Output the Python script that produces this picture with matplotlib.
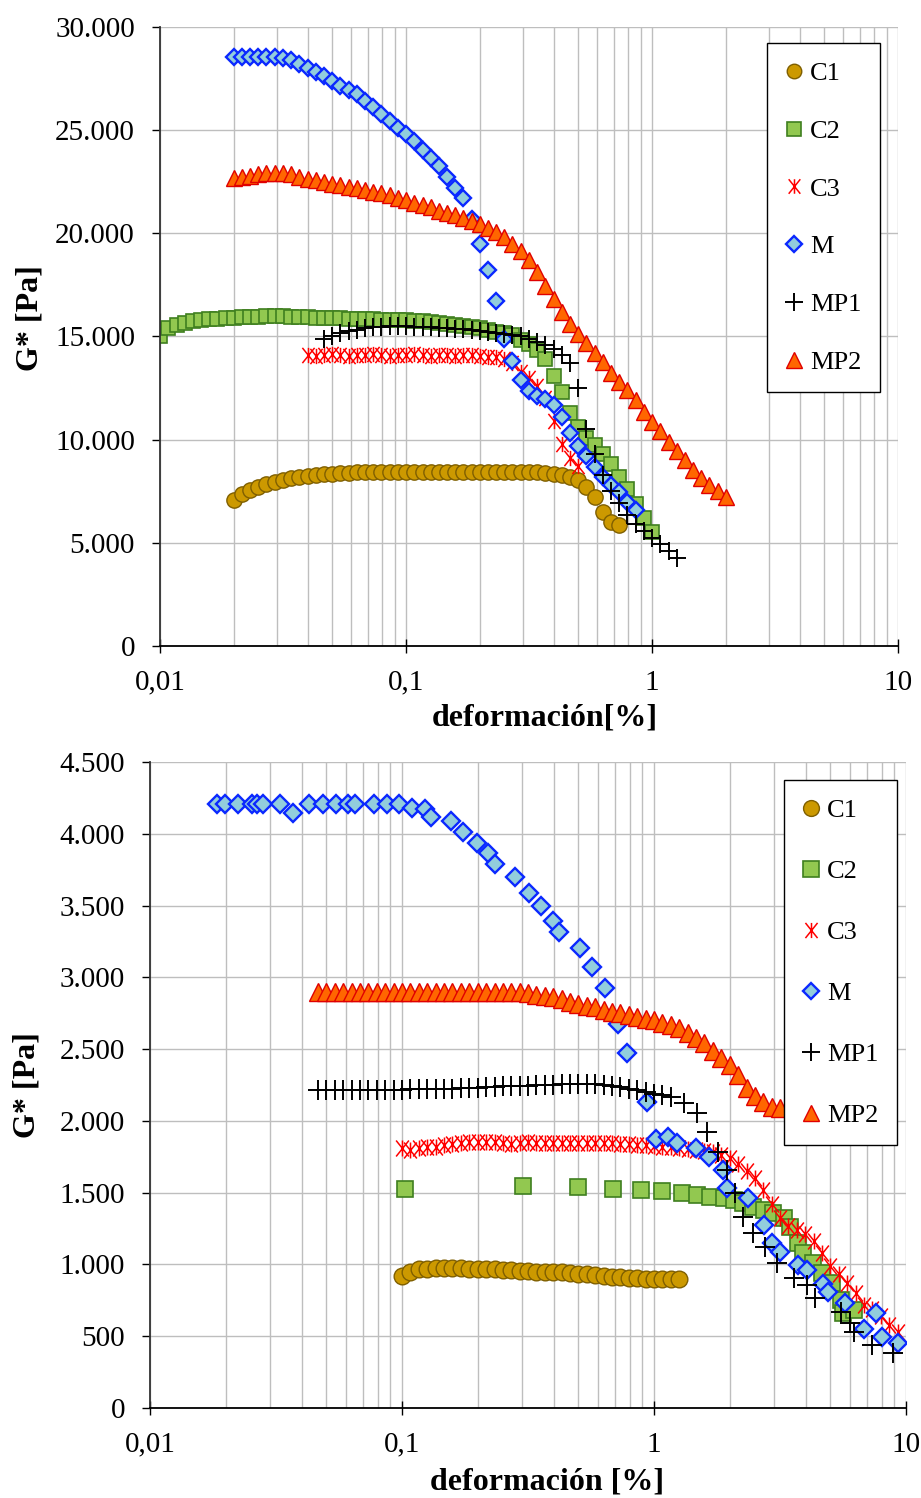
import numpy as np
import matplotlib
matplotlib.use("Agg")
import matplotlib.pyplot as plt
from matplotlib.path import Path
from matplotlib.ticker import FixedLocator, LogLocator, FuncFormatter, NullFormatter

# strain sweep grid (%), 30 points per decade
strain = [0.0100, 0.0108, 0.0117, 0.0126, 0.0136, 0.0147, 0.0158, 0.0171, 0.0185, 0.0200,
          0.0215, 0.0233, 0.0251, 0.0271, 0.0293, 0.0316, 0.0341, 0.0368, 0.0398, 0.0430,
          0.0464, 0.0501, 0.0541, 0.0584, 0.0631, 0.0681, 0.0736, 0.0794, 0.0858, 0.0926,
          0.100, 0.108, 0.117, 0.126, 0.136, 0.147, 0.158, 0.171, 0.185, 0.200,
          0.215, 0.233, 0.251, 0.271, 0.293, 0.316, 0.341, 0.368, 0.398, 0.430,
          0.464, 0.501, 0.541, 0.584, 0.631, 0.681, 0.736, 0.794, 0.858, 0.926,
          1.00, 1.08, 1.17, 1.26, 1.36, 1.47, 1.58, 1.71, 1.85, 2.00,
          2.15, 2.33, 2.51, 2.71, 2.93, 3.16, 3.41, 3.68, 3.98, 4.30,
          4.64, 5.01, 5.41, 5.84, 6.31, 6.81, 7.36, 7.94, 8.58, 9.26, 10.0]

labels = ["C1", "C2", "C3", "M", "MP1", "MP2"]

# ---- upper chart: G* [Pa] on the strain grid, first strain of each series given
c1_top_start = 0.0200
c1_top = [7050, 7350, 7550, 7700, 7850, 7950, 8050, 8150, 8200, 8250,
          8300, 8350, 8350, 8400, 8400, 8450, 8450, 8450, 8450, 8450,
          8450, 8450, 8450, 8450, 8450, 8450, 8450, 8450, 8450, 8450,
          8450, 8450, 8450, 8450, 8450, 8450, 8450, 8450, 8400, 8350,
          8300, 8200, 8050, 7700, 7200, 6500, 6000, 5850]

c2_top_start = 0.0100
c2_top = [15000, 15400, 15550, 15650, 15750, 15800, 15850, 15850, 15900, 15900,
          15950, 15950, 15950, 16000, 16000, 16000, 15950, 15950, 15950, 15900,
          15900, 15900, 15900, 15850, 15850, 15850, 15850, 15800, 15800, 15800,
          15800, 15750, 15750, 15700, 15650, 15600, 15550, 15500, 15450, 15400,
          15300, 15200, 15150, 15050, 14850, 14650, 14350, 13900, 13100, 12300,
          11300, 10600, 10100, 9750, 9300, 8800, 8200, 7600, 6900, 6200,
          5500]

c3_top_start = 0.0398
c3_top = [14100, 14050, 14100, 14150, 14100, 14050, 14100, 14100, 14150, 14100,
          14050, 14100, 14100, 14150, 14100, 14050, 14100, 14100, 14050, 14100,
          14100, 14050, 14000, 14000, 13900, 13700, 13300, 13000, 12600, 12000,
          10900, 9800, 9100, 8700]

m_top_start = 0.0200
m_top = [28550, 28550, 28550, 28550, 28550, 28550, 28500, 28400, 28200, 28000,
         27800, 27600, 27400, 27150, 26950, 26750, 26400, 26100, 25800, 25450,
         25100, 24800, 24450, 24050, 23650, 23250, 22750, 22200, 21700, 20700,
         19500, 18200, 16700, 14900, 13800, 12900, 12350, 12100, 11950, 11700,
         11100, 10300, 9700, 9200, 8650, 8200, 7800, 7450, 7000, 6600]

mp1_top_start = 0.0464
mp1_top = [14900, 15000, 15150, 15250, 15300, 15400, 15450, 15450, 15500, 15500,
           15500, 15450, 15450, 15450, 15400, 15400, 15350, 15350, 15300, 15250,
           15200, 15150, 15100, 15050, 15000, 14900, 14750, 14600, 14400, 14100,
           13700, 12500, 10500, 9300, 8300, 7500, 6950, 6350, 5900, 5550,
           5250, 4950, 4600, 4250]

mp2_top_start = 0.0200
mp2_top = [22700, 22750, 22800, 22850, 22900, 22900, 22900, 22850, 22750, 22650,
           22600, 22500, 22400, 22350, 22250, 22200, 22100, 22000, 21950, 21850,
           21700, 21600, 21450, 21350, 21250, 21100, 21000, 20900, 20750, 20600,
           20450, 20250, 20050, 19800, 19500, 19150, 18700, 18100, 17450, 16800,
           16200, 15600, 15100, 14700, 14200, 13750, 13250, 12800, 12400, 11900,
           11350, 10850, 10400, 9900, 9450, 9000, 8550, 8150, 7800, 7500,
           7200]

# ---- lower chart
c1_bot_start = 0.100
c1_bot = [920, 950, 965, 970, 975, 975, 975, 975, 970, 970,
          965, 965, 960, 960, 955, 955, 950, 950, 945, 945,
          940, 935, 930, 925, 920, 915, 910, 905, 905, 900,
          900, 898, 898, 900]

c2_bot_x = [0.1026, 0.303, 0.500, 0.690, 0.890, 1.08, 1.29, 1.48, 1.67, 1.89, 2.07, 2.26, 2.48,
            2.72, 2.98, 3.27, 3.48, 3.73, 3.90, 4.27, 4.66, 5.10, 5.50, 5.60, 6.20]
c2_bot_y = [1525, 1547, 1540, 1525, 1519, 1512, 1498, 1484, 1470, 1463, 1449, 1428, 1400,
            1379, 1358, 1324, 1261, 1149, 1080, 1010, 940, 871, 752, 662, 683]

c3_bot_start = 0.100
c3_bot = [1810, 1800, 1810, 1815, 1820, 1830, 1840, 1845, 1850, 1850,
          1850, 1850, 1845, 1840, 1845, 1850, 1845, 1845, 1845, 1845,
          1845, 1845, 1845, 1845, 1845, 1845, 1840, 1840, 1835, 1830,
          1825, 1820, 1815, 1810, 1805, 1795, 1790, 1780, 1765, 1740,
          1700, 1650, 1600, 1520, 1420, 1320, 1270, 1240, 1215, 1160,
          1080, 990, 930, 870, 800, 720, 690, 640, 575, 530]

m_bot_x = [0.0184, 0.0198, 0.0223, 0.0254, 0.0266, 0.0281, 0.0328, 0.0370, 0.0428, 0.0486,
           0.0548, 0.0611, 0.0652, 0.0775, 0.0872, 0.0973, 0.1095, 0.123, 0.130, 0.156,
           0.174, 0.198, 0.219, 0.233, 0.280, 0.320, 0.357, 0.397, 0.420, 0.510,
           0.570, 0.640, 0.720, 0.780, 0.940, 1.02, 1.14, 1.23, 1.47, 1.65,
           1.88, 1.95, 2.35, 2.74, 2.94, 3.17, 3.73, 4.05, 4.68, 4.90,
           5.75, 6.80, 7.60, 8.00, 9.30]
m_bot_y = [4207, 4207, 4207, 4207, 4207, 4207, 4207, 4145, 4207, 4207,
           4207, 4207, 4207, 4207, 4207, 4207, 4180, 4170, 4117, 4089,
           4012, 3936, 3866, 3790, 3699, 3590, 3497, 3392, 3316, 3204,
           3072, 2926, 2675, 2473, 2132, 1874, 1888, 1846, 1811, 1748,
           1658, 1533, 1463, 1275, 1149, 1087, 996, 961, 864, 808,
           731, 550, 662, 495, 453]

mp1_bot_start = 0.0464
mp1_bot = [2215, 2215, 2215, 2215, 2215, 2215, 2215, 2215, 2215, 2215,
           2215, 2220, 2220, 2225, 2225, 2225, 2225, 2230, 2230, 2230,
           2235, 2235, 2240, 2240, 2245, 2245, 2250, 2250, 2250, 2255,
           2255, 2255, 2255, 2255, 2250, 2245, 2235, 2225, 2215, 2200,
           2190, 2180, 2165]
mp1_tail_x = [1.31, 1.48, 1.63, 1.79, 1.95, 2.10, 2.26, 2.48, 2.76, 3.08, 3.60, 4.05,
              4.35, 5.50, 6.00, 6.20, 7.30, 8.90]
mp1_tail_y = [2125, 2055, 1923, 1783, 1658, 1498, 1330, 1219, 1122, 1010, 906, 857,
              766, 669, 592, 529, 439, 383]

mp2_bot_start = 0.0464
mp2_bot = [2900] * 25 + [2890, 2880, 2870, 2860, 2850,
           2830, 2815, 2800, 2790, 2775, 2760, 2750, 2740, 2725, 2710,
           2700, 2680, 2665, 2645, 2615, 2580, 2540, 2490, 2440, 2390,
           2320, 2230, 2170, 2130, 2100, 2090]


def on_grid(first, values):
    i = int(np.argmin(np.abs(np.array(strain) - first)))
    return strain[i:i + len(values)], values


# asterisk marker: an X crossed by a vertical bar
star = Path([(-0.8, -1), (0.8, 1), (-0.8, 1), (0.8, -1), (0, -1), (0, 1)],
            [Path.MOVETO, Path.LINETO, Path.MOVETO, Path.LINETO, Path.MOVETO, Path.LINETO])

styles = {
    "C1": dict(marker="o", mfc="#CC9900", mec="#7F5F00", mew=1.0),
    "C2": dict(marker="s", mfc="#92C850", mec="#3F7F1F", mew=1.2),
    "C3": dict(marker=star, color="#FF0000", mew=1.1),
    "M": dict(marker="D", mfc="#92CDDC", mec="#0A28FF", mew=1.7),
    "MP1": dict(marker="+", color="black", mew=1.4),
    "MP2": dict(marker="^", mfc="#FF6600", mec="#E00000", mew=1.0),
}

plt.rcParams["font.family"] = ["Liberation Serif", "DejaVu Serif"]

fig = plt.figure(figsize=(9.21, 14.98), dpi=100)
ax1 = fig.add_axes([0.1737, 0.5688, 0.8013, 0.4132])
ax2 = fig.add_axes([0.1629, 0.0601, 0.8208, 0.4312])

top_series = {
    "C1": on_grid(c1_top_start, c1_top),
    "C2": on_grid(c2_top_start, c2_top),
    "C3": on_grid(c3_top_start, c3_top),
    "M": on_grid(m_top_start, m_top),
    "MP1": on_grid(mp1_top_start, mp1_top),
    "MP2": on_grid(mp2_top_start, mp2_top),
}
mp1_x, mp1_y = on_grid(mp1_bot_start, mp1_bot)
bot_series = {
    "C1": on_grid(c1_bot_start, c1_bot),
    "C2": (c2_bot_x, c2_bot_y),
    "C3": on_grid(c3_bot_start, c3_bot),
    "M": (m_bot_x, m_bot_y),
    "MP1": (list(mp1_x) + mp1_tail_x, list(mp1_y) + mp1_tail_y),
    "MP2": on_grid(mp2_bot_start, mp2_bot),
}

top_sizes = {"C1": 11, "C2": 10, "C3": 11, "M": 8.5, "MP1": 13, "MP2": 12}
bot_sizes = {"C1": 12, "C2": 12, "C3": 11.5, "M": 8.8, "MP1": 14, "MP2": 12.5}

for ax, series, sizes, ymax, ystep in [(ax1, top_series, top_sizes, 30000, 5000),
                                      (ax2, bot_series, bot_sizes, 4500, 500)]:
    for name in labels:
        x, y = series[name]
        ax.plot(x, y, linestyle="none", ms=sizes[name], label=name, **styles[name])

    ax.set_xscale("log")
    ax.set_xlim(0.01, 10)
    ax.set_ylim(0, ymax)
    ax.set_yticks(np.arange(0, ymax + 1, ystep))
    ax.yaxis.set_major_formatter(FuncFormatter(lambda v, p: f"{int(v):,}".replace(",", ".")))
    ax.xaxis.set_major_locator(FixedLocator([0.01, 0.1, 1, 10]))
    ax.set_xticklabels(["0,01", "0,1", "1", "10"])
    ax.xaxis.set_minor_locator(LogLocator(base=10, subs=np.arange(2, 10)))
    ax.xaxis.set_minor_formatter(NullFormatter())

    ax.grid(True, which="major", color="#BEBEBE", lw=1.0)
    ax.grid(True, which="minor", axis="x", color="#BEBEBE", lw=1.0)
    ax.set_axisbelow(True)

    for s in ("top", "right"):
        ax.spines[s].set_visible(False)
    ax.spines["left"].set_color("#333333")
    ax.spines["left"].set_linewidth(1.3)
    ax.spines["bottom"].set_color("black")
    ax.spines["bottom"].set_linewidth(1.3)

    ax.tick_params(axis="y", which="major", direction="out", length=6, width=1.0,
                   pad=12, labelsize=21)
    ax.tick_params(axis="x", which="major", direction="inout", length=10, width=1.0,
                   pad=12, labelsize=21)
    ax.tick_params(axis="x", which="minor", length=0)

leg_kw = dict(loc="upper right", borderaxespad=0, frameon=True, fancybox=False,
              edgecolor="black", framealpha=1, fontsize=19, handlelength=0.7,
              handletextpad=0.25, borderpad=0.7, markerscale=0.95)
leg1 = ax1.legend(bbox_to_anchor=(0.9756, 0.974), labelspacing=1.3, **leg_kw)
leg2 = ax2.legend(bbox_to_anchor=(0.988, 0.972), labelspacing=1.42, **leg_kw)
for leg in (leg1, leg2):
    leg.get_frame().set_linewidth(1.0)

fig.text(545 / 921, 1 - 718 / 1498, "deformación[%]", ha="center", va="center",
         fontsize=23, fontweight="bold")
fig.text(547 / 921, 1 - 1482 / 1498, "deformación [%]", ha="center", va="center",
         fontsize=23, fontweight="bold")
fig.text(30 / 921, 1 - 318 / 1498, "G* [Pa]", ha="center", va="center", rotation=90,
         fontsize=23, fontweight="bold")
fig.text(27 / 921, 1 - 1085 / 1498, "G* [Pa]", ha="center", va="center", rotation=90,
         fontsize=23, fontweight="bold")

fig.savefig("out.png", dpi=100)
